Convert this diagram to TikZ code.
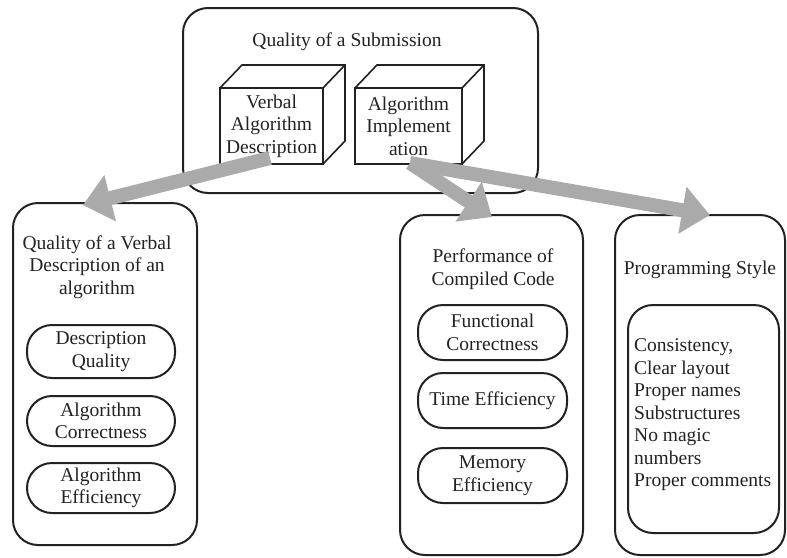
\documentclass[tikz,border=0pt]{standalone}
\usepackage{fontspec}
\setmainfont{Liberation Serif}
\usetikzlibrary{calc,arrows.meta}

\definecolor{ink}{RGB}{34,34,34}
\definecolor{shaft}{RGB}{170,170,170}

\tikzset{
  frame/.style={draw=ink, line width=2pt, rounded corners=25pt, outer sep=0pt, inner sep=0pt},
  pill/.style={draw=ink, line width=2pt, rounded corners=25pt, outer sep=0pt, inner sep=0pt, align=center, text=ink},
  face/.style={draw=ink, line width=1.6pt, fill=white, outer sep=0pt, inner sep=0pt, align=center, text=ink},
  edge3d/.style={draw=ink, line width=1.6pt, line join=miter},
  label/.style={align=center, text=ink, inner sep=0pt},
  bigarrow/.style={draw=shaft, line width=14pt, -{Triangle[length=28pt, width=46pt, fill=shaft]}},
}

\begin{document}
\begin{tikzpicture}[x=1pt, y=-1pt, font=\fontsize{19.5}{22.5}\selectfont]
\useasboundingbox (0,0) rectangle (787,557);
\fill[white] (0,0) rectangle (787,557);

% top container and its two cubes
\node[frame, minimum width=355pt, minimum height=185pt] (top) at (360.5,100.5) {};
\node[label] (toptitle) at (347,42) {Quality of a Submission};

\node[face, minimum width=103pt, minimum height=76pt] (vad) at (271.5,126) {Verbal\\Algorithm\\Description};
\node[face, minimum width=107pt, minimum height=76pt] (ai) at (408.5,126) {Algorithm\\Implement\\ation};

\foreach \c in {vad,ai}{
  \draw[edge3d] (\c.north west) -- ($(\c.north west)+(22,-23)$) -- ($(\c.north east)+(22,-23)$)
        -- ($(\c.south east)+(22,-23)$) -- (\c.south east);
  \draw[edge3d] (\c.north east) -- ($(\c.north east)+(22,-23)$);
}

% left column: verbal description
\node[frame, minimum width=184pt, minimum height=342pt] (left) at (105,374) {};
\node[label] (lefttitle) at (97,267) {Quality of a Verbal\\Description of an\\algorithm};
\node[pill, minimum width=148pt, minimum height=53pt] (dq) at (101,351.5) {Description\\Quality};
\node[pill, minimum width=148pt, minimum height=50pt] (ac) at (101,421) {Algorithm\\Correctness};
\node[pill, minimum width=148pt, minimum height=50pt] (ae) at (101,488) {Algorithm\\Efficiency};

% middle column: compiled code
\node[frame, minimum width=183pt, minimum height=340pt] (mid) at (491.5,385) {};
\node[label] (midtitle) at (493,269) {Performance of\\Compiled Code};
\node[pill, minimum width=149pt, minimum height=55pt] (fc) at (492.5,332.5) {Functional\\Correctness};
\node[pill, minimum width=149pt, minimum height=55pt] (te) at (492.5,400.5) {Time Efficiency};
\node[pill, minimum width=149pt, minimum height=55pt] (me) at (492.5,475.5) {Memory\\Efficiency};

% right column: programming style
\node[frame, minimum width=170pt, minimum height=340pt] (right) at (700,385) {};
\node[label] (righttitle) at (700,270) {Programming Style};
\node[frame, minimum width=151pt, minimum height=228pt] (style) at (703.5,419) {};
\node[label, align=left, anchor=west] (stylelist) at (634,415)
  {Consistency,\\Clear layout\\Proper names\\Substructures\\No magic\\numbers\\Proper comments};

% connectors
\coordinate (s1) at (270,158);
\coordinate (s2) at (410,163);
\coordinate (t1) at (83,205);
\coordinate (t2) at (492,217);
\coordinate (t3) at (710,215);
\draw[bigarrow] (s1) -- (t1);
\draw[bigarrow] (s2) -- (t2);
\draw[bigarrow] (s2) -- (t3);
\end{tikzpicture}
\end{document}
